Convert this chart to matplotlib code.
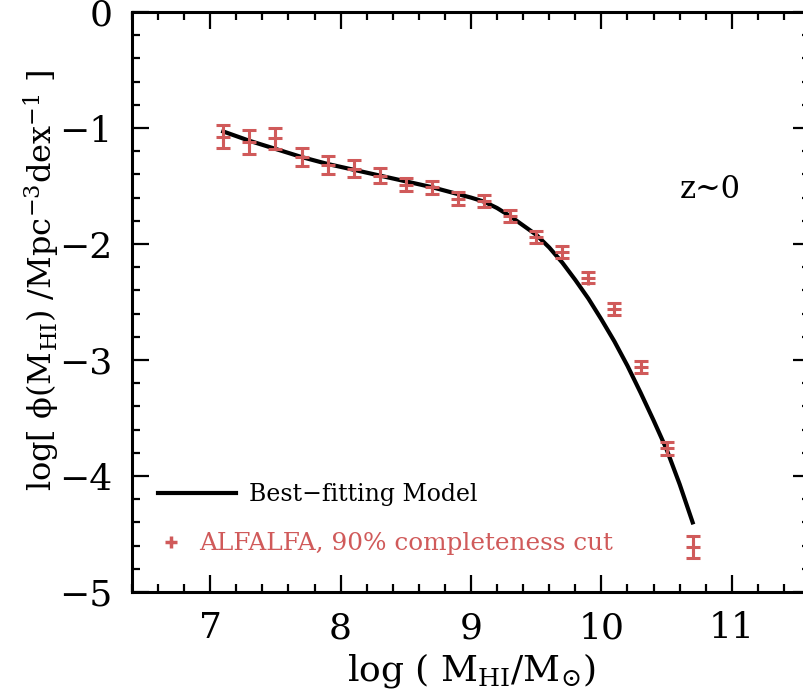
import matplotlib
matplotlib.use("Agg")
import matplotlib.pyplot as plt
from matplotlib.lines import Line2D
from matplotlib.ticker import MultipleLocator

plt.rcParams['font.family'] = ['DejaVu Serif']
plt.rcParams['mathtext.fontset'] = 'dejavuserif'

# ALFALFA HI mass function, 90% completeness cut
log_mhi = [7.1, 7.3, 7.5, 7.7, 7.9, 8.1, 8.3, 8.5, 8.7, 8.9,
           9.1, 9.3, 9.5, 9.7, 9.9, 10.1, 10.3, 10.5, 10.7]
log_phi = [-1.075, -1.12, -1.09, -1.25, -1.32, -1.35, -1.41, -1.49, -1.51, -1.61,
           -1.63, -1.76, -1.94, -2.07, -2.29, -2.56, -3.06, -3.76, -4.61]
phi_err = [0.10, 0.10, 0.09, 0.08, 0.075, 0.07, 0.063, 0.057, 0.057, 0.057,
           0.054, 0.053, 0.05, 0.05, 0.05, 0.05, 0.05, 0.055, 0.095]

# best-fitting model
model_x = [7.1, 7.2, 7.3, 7.4, 7.5, 7.6, 7.7, 7.8, 7.9, 8.0, 8.1, 8.2, 8.3,
           8.4, 8.5, 8.6, 8.7, 8.8, 8.9, 9.0, 9.1, 9.2, 9.3, 9.4, 9.5, 9.6,
           9.7, 9.8, 9.9, 10.0, 10.1, 10.2, 10.3, 10.4, 10.5, 10.6, 10.7]
model_y = [-1.03, -1.07, -1.11, -1.145, -1.18, -1.215, -1.25, -1.28, -1.31,
           -1.335, -1.36, -1.385, -1.41, -1.435, -1.46, -1.485, -1.51, -1.54,
           -1.57, -1.60, -1.635, -1.69, -1.76, -1.84, -1.92, -2.03, -2.16,
           -2.31, -2.47, -2.65, -2.84, -3.05, -3.28, -3.52, -3.77, -4.07, -4.40]

red = '#d05a5a'

fig = plt.figure(figsize=(8.04, 6.95), dpi=100)
ax = fig.add_axes([132 / 804, 103 / 695, 678 / 804, 580 / 695])

ax.plot(model_x, model_y, color='black', lw=3.0, zorder=3)
ax.errorbar(log_mhi, log_phi, yerr=phi_err, fmt='+', color=red, ms=10, mew=2.2,
            elinewidth=2.2, capsize=5, capthick=2.2, zorder=4)

ax.set_xlim(6.4, 11.6)
ax.set_ylim(-5, 0)
ax.xaxis.set_major_locator(MultipleLocator(1))
ax.xaxis.set_minor_locator(MultipleLocator(0.2))
ax.yaxis.set_major_locator(MultipleLocator(1))
ax.yaxis.set_minor_locator(MultipleLocator(0.2))
ax.tick_params(which='both', direction='in', top=True, right=True, labelsize=26)
ax.tick_params(which='major', length=12, width=1.6, pad=14)
ax.tick_params(which='minor', length=5.5, width=1.6)
for s in ax.spines.values():
    s.set_linewidth(2.2)

ax.set_xlabel(r'log ( M$_{\rm HI}$/M$_{\odot}$)', fontsize=26, labelpad=4)
ax.set_ylabel('log[ \u03d5(M$_{\\rm HI}$) /Mpc$^{-3}$dex$^{-1}$ ]', fontsize=23)
ax.yaxis.set_label_coords(-0.103, 0.538)

ax.text(10.6, -1.53, 'z~0', fontsize=22, ha='left', va='center')

leg1 = ax.legend([Line2D([], [], color='black', lw=3.0)], ['Best\u2212fitting Model'],
                 loc='center left', bbox_to_anchor=(0.025, 0.168), frameon=False,
                 fontsize=17, handlelength=3.3, handletextpad=0.55, borderaxespad=0)
ax.add_artist(leg1)
ax.legend([Line2D([], [], color=red, marker='+', ls='none', ms=9, mew=2.5)],
          ['ALFALFA, 90% completeness cut'], labelcolor=red,
          loc='center left', bbox_to_anchor=(0.025, 0.083), frameon=False,
          fontsize=17.8, handlelength=1.0, handletextpad=0.62, borderaxespad=0)

fig.savefig('out.png', dpi=100)
